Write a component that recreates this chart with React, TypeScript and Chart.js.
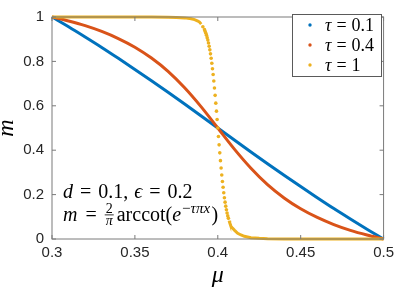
import React, { useEffect, useRef } from "react";
import { Chart, registerables } from "chart.js";

Chart.register(...registerables);

// ---- data ----
const muGrid = [0.30, 0.31, 0.32, 0.33, 0.34, 0.35, 0.36, 0.37, 0.38, 0.39, 0.40, 0.41, 0.42, 0.43, 0.44, 0.45, 0.46, 0.47, 0.48, 0.49, 0.50];
const blueM = [1.000, 0.956, 0.910, 0.863, 0.814, 0.764, 0.713, 0.661, 0.608, 0.554, 0.500, 0.446, 0.392, 0.339, 0.287, 0.236, 0.186, 0.137, 0.090, 0.044, 0.000];
const orangeM = [1.000, 0.982, 0.961, 0.935, 0.903, 0.864, 0.815, 0.755, 0.681, 0.595, 0.500, 0.405, 0.319, 0.245, 0.185, 0.136, 0.097, 0.065, 0.039, 0.018, 0.000];
const muYellow = [
  0.30, 0.32, 0.34, 0.36, 0.37, 0.375, 0.38, 0.384, 0.386, 0.388, 0.389, 0.390, 0.391,
  0.3920, 0.3924, 0.3928, 0.3932, 0.3936, 0.3940, 0.3944, 0.3948, 0.3952, 0.3956,
  0.3960, 0.3964, 0.3968, 0.3972, 0.3976, 0.3980, 0.3984, 0.3988, 0.3992, 0.3996,
  0.4000, 0.4004, 0.4008, 0.4012, 0.4016, 0.4020, 0.4024, 0.4028, 0.4032, 0.4036,
  0.4040, 0.4044, 0.4048, 0.4052, 0.4056, 0.4060, 0.4064, 0.4068, 0.4072, 0.4076, 0.4080,
  0.409, 0.410, 0.412, 0.414, 0.416, 0.418, 0.420, 0.425, 0.430, 0.440, 0.460, 0.480, 0.500,
];
const yellowM = [
  1.000, 1.000, 1.000, 1.000, 0.999, 0.998, 0.996, 0.992, 0.988, 0.982, 0.977, 0.968, 0.956,
  0.943, 0.935, 0.927, 0.918, 0.907, 0.896, 0.883, 0.868, 0.852, 0.834,
  0.814, 0.792, 0.767, 0.741, 0.712, 0.680, 0.647, 0.612, 0.576, 0.538,
  0.500, 0.462, 0.424, 0.388, 0.353, 0.320, 0.288, 0.259, 0.233, 0.208,
  0.186, 0.166, 0.148, 0.132, 0.117, 0.104, 0.093, 0.082, 0.073, 0.065, 0.057,
  0.048, 0.040, 0.026, 0.018, 0.012, 0.009, 0.006, 0.003, 0.001, 0.000, 0.000, 0.000, 0.000,
];
const tauLabels = ["0.1", "0.4", "1"];
const xTicks = [0.3, 0.35, 0.4, 0.45, 0.5];
const yTicks = [0, 0.2, 0.4, 0.6, 0.8, 1];

const BLUE = "#0072BD";
const ORANGE = "#D95319";
const YELLOW = "#EDB120";
const COLORS = [BLUE, ORANGE, YELLOW];
const AXIS = "#7a7a7a";
const TICKTXT = "#262626";
const SANS = "'Liberation Sans', Arial, Helvetica, sans-serif";
const SERIF = "'Liberation Serif', 'Times New Roman', serif";

const isDot = (v: number | undefined) => v !== undefined && v > 0.085 && v < 0.96;
const fmt = (v: number) => String(Number(Number(v).toFixed(2)));

type Tok = { t?: string; it?: boolean; gap?: number; size?: number; dy?: number; frac?: [string, string] };

function drawRuns(ctx: CanvasRenderingContext2D, x0: number, y: number, toks: Tok[], base: number) {
  let x = x0;
  ctx.textAlign = "left";
  ctx.textBaseline = "alphabetic";
  for (const k of toks) {
    if (k.gap !== undefined) { x += k.gap; continue; }
    if (k.frac) {
      const fs = Math.round(base * 0.68);
      ctx.font = `${fs}px ${SERIF}`;
      const w1 = ctx.measureText(k.frac[0]).width;
      ctx.font = `italic ${fs}px ${SERIF}`;
      const w2 = ctx.measureText(k.frac[1]).width;
      const w = Math.max(w1, w2) + 2;
      ctx.font = `${fs}px ${SERIF}`;
      ctx.fillText(k.frac[0], x + (w - w1) / 2, y - 8.5);
      ctx.font = `italic ${fs}px ${SERIF}`;
      ctx.fillText(k.frac[1], x + (w - w2) / 2, y + 3.5);
      ctx.fillRect(x, y - 6.5, w, 0.8);
      x += w;
      continue;
    }
    const size = k.size || base;
    ctx.font = `${k.it ? "italic " : ""}${size}px ${SERIF}`;
    ctx.fillText(k.t || "", x, y + (k.dy || 0));
    x += ctx.measureText(k.t || "").width;
  }
}

const framePlugin = {
  id: "frame",
  afterDatasetsDraw(chart: any) {
    const { ctx, chartArea, scales } = chart;
    const { left, top, right, bottom } = chartArea;
    const xs = scales.x;
    const ys = scales.y;
    ctx.save();
    // box
    ctx.strokeStyle = AXIS;
    ctx.lineWidth = 1;
    ctx.strokeRect(left, top, right - left, bottom - top);
    // inward ticks, all four sides
    ctx.beginPath();
    const tl = 4;
    for (const v of xTicks) {
      const px = xs.getPixelForValue(v);
      ctx.moveTo(px, bottom); ctx.lineTo(px, bottom - tl);
      ctx.moveTo(px, top); ctx.lineTo(px, top + tl);
    }
    for (const v of yTicks) {
      const py = ys.getPixelForValue(v);
      ctx.moveTo(left, py); ctx.lineTo(left + tl, py);
      ctx.moveTo(right, py); ctx.lineTo(right - tl, py);
    }
    ctx.stroke();

    // legend box
    const lx = 292, ly = 14, lw = 89, lh = 62;
    ctx.fillStyle = "#ffffff";
    ctx.fillRect(lx, ly, lw, lh);
    ctx.strokeStyle = "#5a5a5a";
    ctx.strokeRect(lx + 0.5, ly + 0.5, lw, lh);
    for (let i = 0; i < tauLabels.length; i++) {
      const cy = ly + 11 + i * 20;
      ctx.fillStyle = COLORS[i];
      ctx.beginPath();
      ctx.arc(lx + 18, cy, 1.7, 0, Math.PI * 2);
      ctx.fill();
      ctx.fillStyle = "#000";
      drawRuns(ctx, lx + 33, cy + 6, [
        { t: "τ", it: true }, { gap: 5 }, { t: "=" }, { gap: 5 }, { t: tauLabels[i] },
      ], 18);
    }

    // annotation
    ctx.fillStyle = "#000";
    drawRuns(ctx, 63, 198, [
      { t: "d", it: true }, { gap: 7 }, { t: "=" }, { gap: 7 }, { t: "0.1," }, { gap: 6 },
      { t: "ϵ", it: true }, { gap: 7 }, { t: "=" }, { gap: 7 }, { t: "0.2" },
    ], 20);
    drawRuns(ctx, 63, 221, [
      { t: "m", it: true }, { gap: 8 }, { t: "=" }, { gap: 8 }, { frac: ["2", "π"] }, { gap: 3 },
      { t: "arccot(" }, { t: "e", it: true }, { gap: 1 },
      { t: "−", size: 15, dy: -8 }, { t: "τπx", it: true, size: 15, dy: -8 }, { gap: 1.5 }, { t: ")" },
    ], 20);

    // axis labels
    ctx.font = `italic 24px ${SERIF}`;
    ctx.textAlign = "center";
    ctx.textBaseline = "alphabetic";
    ctx.fillText("μ", (left + right) / 2, 282);
    ctx.translate(13, (top + bottom) / 2);
    ctx.rotate(-Math.PI / 2);
    ctx.fillText("m", 0, 0);
    ctx.restore();
  },
};

export default function App() {
  const ref = useRef<HTMLCanvasElement | null>(null);
  useEffect(() => {
    if (!ref.current) return;
    const mk = (mu: number[], m: number[]) => mu.map((x, i) => ({ x, y: m[i] }));
    const chart = new Chart(ref.current, {
      type: "scatter",
      data: {
        datasets: [
          {
            label: "τ = 0.1", data: mk(muGrid, blueM), showLine: true, borderColor: BLUE,
            borderWidth: 3, pointRadius: 0, cubicInterpolationMode: "monotone", clip: false, order: 2,
          } as any,
          {
            label: "τ = 0.4", data: mk(muGrid, orangeM), showLine: true, borderColor: ORANGE,
            borderWidth: 3, pointRadius: 0, cubicInterpolationMode: "monotone", clip: false, order: 1,
          } as any,
          {
            label: "τ = 1", data: mk(muYellow, yellowM), showLine: true, borderColor: YELLOW,
            borderWidth: 3, clip: false, order: 0,
            pointRadius: (c: any) => (isDot(c.raw?.y) ? 1.8 : 0),
            pointBackgroundColor: YELLOW, pointBorderWidth: 0,
            segment: {
              borderColor: (c: any) => (isDot(c.p0.parsed.y) || isDot(c.p1.parsed.y) ? "rgba(0,0,0,0)" : undefined),
            },
          } as any,
        ],
      },
      options: {
        animation: false,
        responsive: false,
        devicePixelRatio: 1,
        layout: { padding: { left: 0, top: 5, right: 11, bottom: 0 } },
        plugins: { legend: { display: false }, tooltip: { enabled: false } },
        scales: {
          x: {
            type: "linear", min: 0.3, max: 0.5,
            afterBuildTicks: (s: any) => { s.ticks = xTicks.map((v) => ({ value: v })); },
            afterFit: (s: any) => { s.height = 51; },
            ticks: { callback: (v: any) => fmt(v), color: TICKTXT, font: { family: SANS, size: 15 }, padding: 5, maxRotation: 0, autoSkip: false },
            grid: { display: false, drawTicks: false },
            border: { display: false },
          },
          y: {
            type: "linear", min: 0, max: 1,
            afterBuildTicks: (s: any) => { s.ticks = yTicks.map((v) => ({ value: v })); },
            afterFit: (s: any) => { s.width = 52; },
            ticks: { callback: (v: any) => fmt(v), color: TICKTXT, font: { family: SANS, size: 15 }, padding: 8, autoSkip: false },
            grid: { display: false, drawTicks: false },
            border: { display: false },
          },
        },
      },
      plugins: [framePlugin],
    });
    return () => chart.destroy();
  }, []);
  return (
    <div style={{ position: "absolute", left: 0, top: 0, width: 399, height: 290, background: "#fff" }}>
      <canvas ref={ref} width={399} height={290} style={{ display: "block" }} />
    </div>
  );
}
